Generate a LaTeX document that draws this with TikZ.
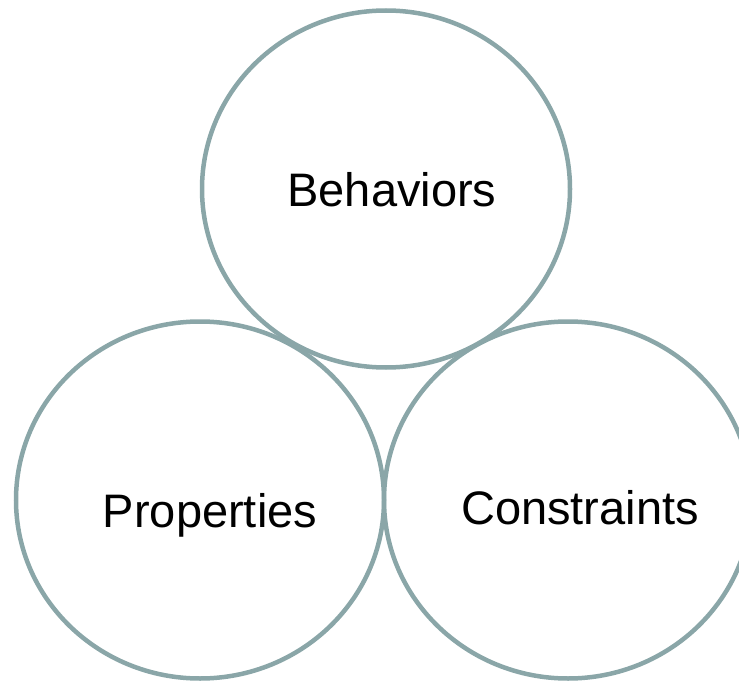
\documentclass[tikz,border=0pt]{standalone}
\usepackage{fontspec}
\setmainfont{Liberation Sans}
\usetikzlibrary{shapes.geometric}
\definecolor{ringcol}{HTML}{8AA6A8}
\begin{document}
\begin{tikzpicture}[x=1pt,y=-1pt,
  ring/.style={ellipse, draw=ringcol, line width=4.5pt, minimum width=368pt, minimum height=357pt, inner sep=0pt},
  lbl/.style={anchor=base, font=\fontsize{47}{56}\selectfont, text=black, inner sep=0pt}]
\clip (0,0) rectangle (739,682);
\useasboundingbox (0,0) rectangle (739,682);
\node[ring] (top) at (386,189) {};
\node[ring] (left) at (200,500) {};
\node[ring] (right) at (568,500) {};
\node[lbl] (tb) at (392,206) {Behaviors};
\node[lbl] (lb) at (210,527) {Properties};
\node[lbl] (rb) at (580,524) {Constraints};
\end{tikzpicture}
\end{document}
